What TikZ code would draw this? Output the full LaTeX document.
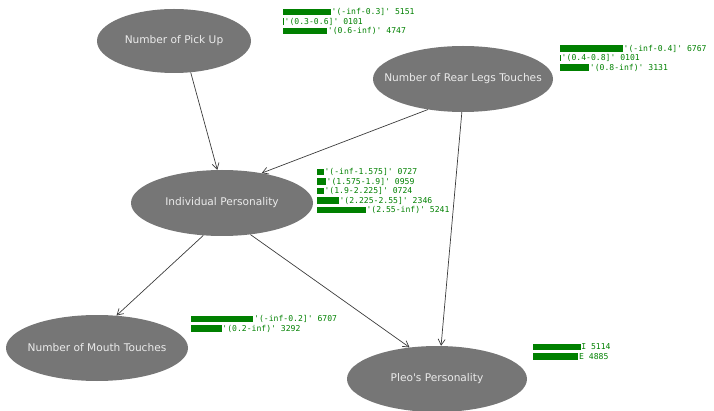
\documentclass[tikz,border=0pt]{standalone}
\usepackage{fontspec}
\setmainfont{DejaVu Sans}
\newfontfamily\barfont{DejaVu Sans Mono}
\usepackage{tikz}
\usetikzlibrary{arrows.meta,shapes.geometric}

\definecolor{nodegray}{RGB}{118,118,118}
\definecolor{nodetext}{RGB}{235,235,235}
\definecolor{bargreen}{RGB}{0,128,0}
\definecolor{edgegray}{RGB}{60,60,60}
\newcommand{\tq}{\textquotesingle}

\tikzset{
  var/.style={ellipse, fill=nodegray, text=nodetext, inner xsep=-20pt, inner ysep=0pt,
    minimum width=182pt, minimum height=66pt, font=\fontsize{10.6}{12}\selectfont},
  link/.style={-{Straight Barb[length=6pt,width=7pt]}, edgegray, line width=0.7pt},
  bar/.style={fill=bargreen},
  barlabel/.style={anchor=west, inner sep=0.6pt, text=bargreen,
    font=\barfont\fontsize{8.1}{9}\selectfont}
}

\begin{document}
\begin{tikzpicture}[x=1pt,y=-1pt]
    \useasboundingbox (0,0) rectangle (714,411);

    % Variables
    \node[var, minimum width=154pt, minimum height=64pt] (pick) at (174,41) {Number of Pick Up};
    \node[var, minimum width=180pt] (rear) at (463,79) {Number of Rear Legs Touches};
    \node[var] (indiv) at (222,203) {Individual Personality};
    \node[var] (mouth) at (97,348) {Number of Mouth Touches};
    \node[var, minimum width=180pt] (pleo) at (437,379) {Pleo\tq s Personality};

    % Dependencies
    \draw[link] (pick.-62) -- (indiv.98);
    \draw[link] (rear.-139) -- (indiv.37);
    \draw[link] (rear.-92) -- (pleo.83);
    \draw[link] (indiv.-120) -- (mouth.59);
    \draw[link] (indiv.-48) -- (pleo.131);

    % Distributions, bar length = count / 10000 * 93
    \foreach \w/\lbl [count=\i] in {5151/{\tq(-inf-0.3]\tq{} 5151},
        101/{\tq(0.3-0.6]\tq{} 0101}, 4747/{\tq(0.6-inf)\tq{} 4747}} {
      \fill[bar] (283,{2.5+9.5*\i-3.25}) rectangle ++({\w*0.0093},6.5);
      \node[barlabel] (pickbar\i) at ({283+\w*0.0093},{2.5+9.5*\i}) {\lbl};
    }
    \foreach \w/\lbl [count=\i] in {6767/{\tq(-inf-0.4]\tq{} 6767},
        101/{\tq(0.4-0.8]\tq{} 0101}, 3131/{\tq(0.8-inf)\tq{} 3131}} {
      \fill[bar] (560,{39+9.5*\i-3.25}) rectangle ++({\w*0.0093},6.5);
      \node[barlabel] (rearbar\i) at ({560+\w*0.0093},{39+9.5*\i}) {\lbl};
    }
    \foreach \w/\lbl [count=\i] in {727/{\tq(-inf-1.575]\tq{} 0727},
        959/{\tq(1.575-1.9]\tq{} 0959}, 724/{\tq(1.9-2.225]\tq{} 0724},
        2346/{\tq(2.225-2.55]\tq{} 2346}, 5241/{\tq(2.55-inf)\tq{} 5241}} {
      \fill[bar] (317,{162.5+9.5*\i-3.25}) rectangle ++({\w*0.0093},6.5);
      \node[barlabel] (indivbar\i) at ({317+\w*0.0093},{162.5+9.5*\i}) {\lbl};
    }
    \foreach \w/\lbl [count=\i] in {6707/{\tq(-inf-0.2]\tq{} 6707},
        3292/{\tq(0.2-inf)\tq{} 3292}} {
      \fill[bar] (191,{309.5+9.5*\i-3.25}) rectangle ++({\w*0.0093},6.5);
      \node[barlabel] (mouthbar\i) at ({191+\w*0.0093},{309.5+9.5*\i}) {\lbl};
    }
    \foreach \w/\lbl [count=\i] in {5114/{I 5114}, 4885/{E 4885}} {
      \fill[bar] (533,{337.5+9.5*\i-3.25}) rectangle ++({\w*0.0093},6.5);
      \node[barlabel] (pleobar\i) at ({533+\w*0.0093},{337.5+9.5*\i}) {\lbl};
    }
\end{tikzpicture}
\end{document}
